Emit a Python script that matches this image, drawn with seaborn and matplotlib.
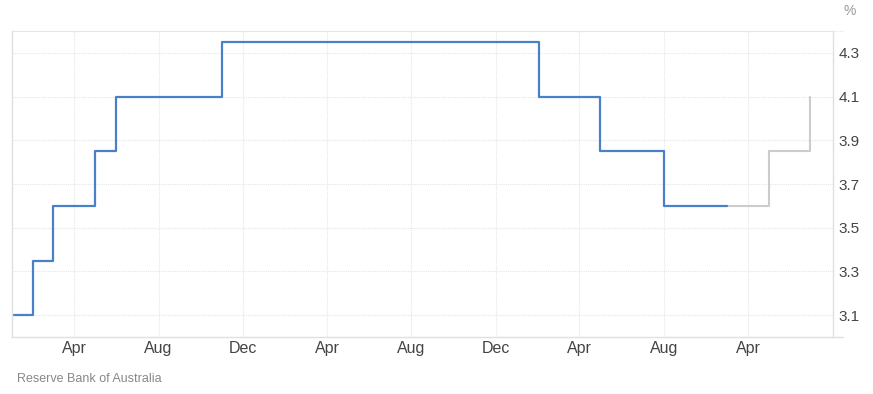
import pandas as pd
import seaborn as sns
import matplotlib.pyplot as plt

# Monthly cash rate, Jan 2023 - Nov 2025 (%)
rate_values = [
    3.10, 3.35, 3.60, 3.60, 3.85, 4.10, 4.10, 4.10, 4.10, 4.10, 4.35, 4.35,
    4.35, 4.35, 4.35, 4.35, 4.35, 4.35, 4.35, 4.35, 4.35, 4.35, 4.35, 4.35,
    4.35, 4.10, 4.10, 4.10, 3.85, 3.85, 3.85, 3.60, 3.60, 3.60, 3.60,
]
rate_start = '2023-01-01'

# Forecast part (grey)
forecast_dates = ['2025-11-01', '2026-01-01', '2026-03-01']
forecast_values = [3.60, 3.85, 4.10]

tick_dates = ['2023-04-01', '2023-08-01', '2023-12-01', '2024-04-01', '2024-08-01',
              '2024-12-01', '2025-04-01', '2025-08-01', '2025-12-01']
tick_labels = ['Apr', 'Aug', 'Dec', 'Apr', 'Aug', 'Dec', 'Apr', 'Aug', 'Apr']
y_ticks = [3.1, 3.3, 3.5, 3.7, 3.9, 4.1, 4.3]

hist = pd.DataFrame({
    'date': pd.date_range(rate_start, periods=len(rate_values), freq='MS'),
    'rate': rate_values,
})
fcst = pd.DataFrame({'date': pd.to_datetime(forecast_dates), 'rate': forecast_values})

sns.set_style('white')
plt.rcParams['font.family'] = ['Liberation Sans', 'DejaVu Sans']

fig = plt.figure(figsize=(8.73, 3.94), dpi=100)
ax = fig.add_axes([12 / 873, 57 / 394, 821 / 873, 306 / 394])

sns.lineplot(data=fcst, x='date', y='rate', ax=ax, color='#cccccc', linewidth=1.5,
             drawstyle='steps-post')
sns.lineplot(data=hist, x='date', y='rate', ax=ax, color='#4a80c8', linewidth=1.6,
             drawstyle='steps-post')

ax.set_xlim(pd.Timestamp('2023-01-01'), pd.Timestamp('2026-04-03'))
ax.set_ylim(3.0, 4.4)

ax.set_xticks(pd.to_datetime(tick_dates))
ax.set_xticklabels(tick_labels)
ax.set_yticks(y_ticks)
ax.set_yticklabels([f'{v:.1f}' for v in y_ticks])
ax.yaxis.tick_right()
ax.tick_params(axis='both', length=0, colors='#444444')
ax.tick_params(axis='x', pad=3, labelsize=11.5)
ax.tick_params(axis='y', pad=4, labelsize=11)
ax.set_xlabel('')
ax.set_ylabel('')

ax.grid(True, color='#e6e6e6', linestyle=(0, (1, 1)), linewidth=0.8)
for side in ['left', 'right', 'bottom']:
    ax.spines[side].set_color('#e0e0e0')
    ax.spines[side].set_linewidth(1)
ax.spines['top'].set_color('#e6e6e6')
ax.spines['top'].set_linestyle((0, (1, 1)))
ax.spines['top'].set_linewidth(0.8)

# bottom and top rules run a little past the right spine
ax.plot([1, 1.012], [0, 0], transform=ax.transAxes, color='#e0e0e0', lw=1, clip_on=False)
ax.plot([1, 1.012], [1, 1], transform=ax.transAxes, color='#e6e6e6', lw=0.8,
        linestyle=(0, (1, 1)), clip_on=False)

fig.text(850 / 873, 1 - 11 / 394, '%', ha='center', va='center', fontsize=10, color='#999999')
fig.text(17 / 873, 1 - 379 / 394, 'Reserve Bank of Australia', ha='left', va='center',
         fontsize=9, color='#888888')

fig.savefig('out.png', dpi=100)
